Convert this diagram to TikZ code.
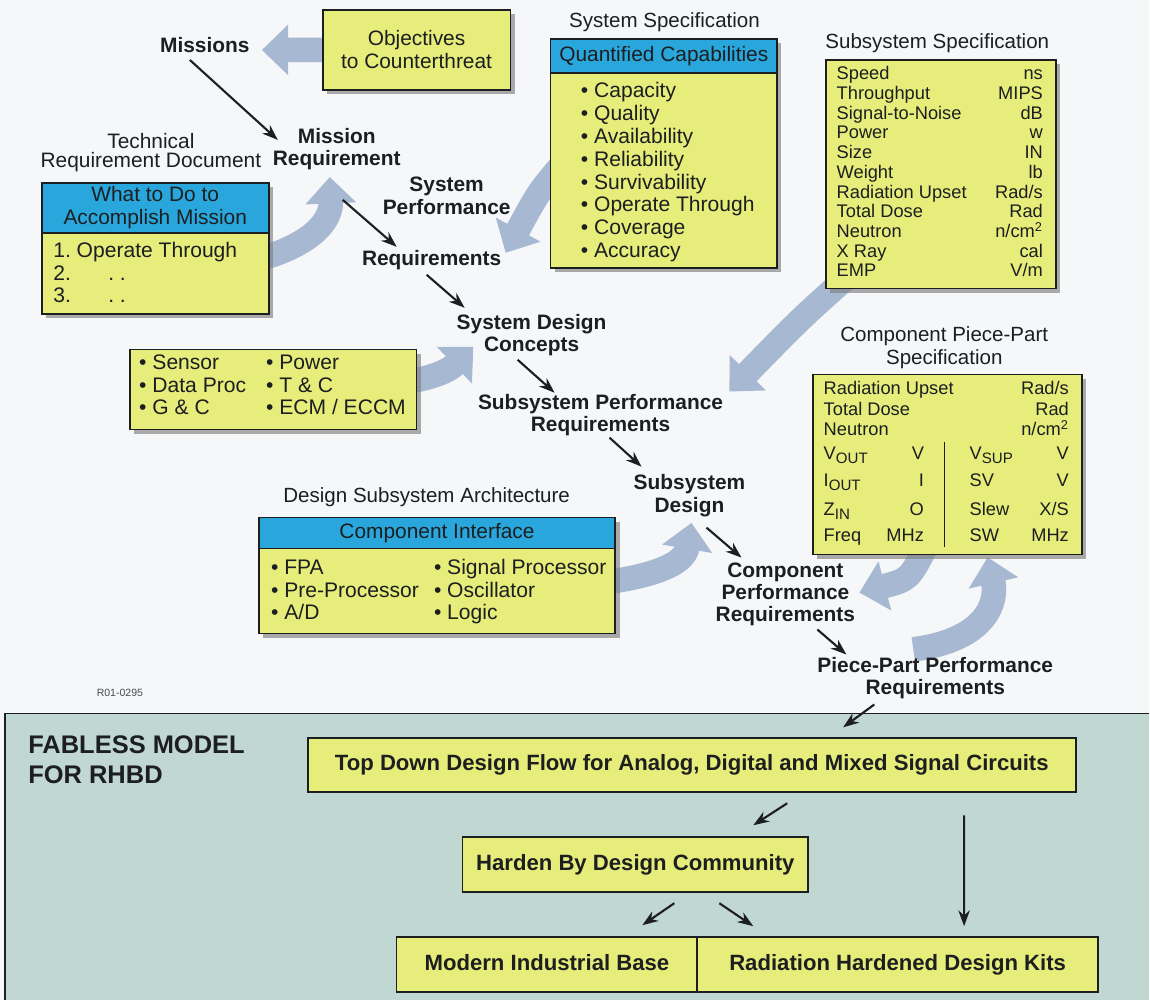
\documentclass[tikz,border=0pt]{standalone}
\usepackage{fontspec}
\setmainfont{Liberation Sans}
\usetikzlibrary{arrows.meta,calc,shadows}
\definecolor{boxyellow}{RGB}{231,237,122}
\definecolor{hdrblue}{RGB}{41,167,221}
\definecolor{fatblue}{RGB}{166,184,210}
\definecolor{panelgreen}{RGB}{193,215,209}
\definecolor{paper}{RGB}{246,247,249}
\definecolor{ink}{RGB}{28,30,32}
\pgfdeclarelayer{back}
\pgfdeclarelayer{fat}
\pgfsetlayers{back,fat,main}
\newcommand{\lowtxt}[1]{\raisebox{-0.45ex}{\fontsize{8.6}{9}\selectfont #1}}
\frenchspacing

\begin{document}
\begin{tikzpicture}[x=0.02cm, y=-0.02cm, >={Stealth[length=9pt,width=6.5pt]},
  lbl/.style={font=\fontsize{11.9}{12.6}\selectfont\bfseries, align=center, inner sep=0pt, text=ink},
  ttl/.style={font=\fontsize{11.7}{12.8}\selectfont, align=center, inner sep=0pt, text=ink},
  listitem/.style={font=\fontsize{12}{13}\selectfont, anchor=base west, inner sep=0pt, text=ink},
  tabrow/.style={font=\fontsize{10.4}{11}\selectfont, inner sep=0pt, text=ink},
  specbox/.style={draw=ink, line width=1pt, fill=boxyellow, inner sep=0pt, anchor=north west,
    drop shadow={shadow xshift=2.4pt, shadow yshift=-2.4pt, fill=black!50, opacity=0.65}},
  hdr/.style={specbox, fill=hdrblue, font=\fontsize{11.9}{13.4}\selectfont, align=center, text=ink},
  flowbox/.style={draw=ink, line width=1pt, fill=boxyellow, inner sep=0pt, anchor=north west,
    text height=9pt, text depth=2.6pt, font=\fontsize{12.6}{14}\selectfont\bfseries, text=ink},
  fatarrow/.style={draw=fatblue, line width=14pt, -{Triangle[length=15pt,width=28pt]}},
  blk/.style={->, draw=ink, line width=1.2pt}]

\begin{pgfonlayer}{back}
  \fill[paper] (0,0) rectangle (1150,1001);
  \fill[panelgreen] (5,714) rectangle (1150,1001);
  \draw[ink, line width=1pt] (5,1001) -- (5,714) -- (1150,714);
\end{pgfonlayer}
\useasboundingbox (0,0) rectangle (1150,1001);

% flow labels
\node[lbl] (missions) at (205,45) {Missions};
\node[lbl] (missreq) at (337,149) {Mission\\Requirement};
\node[lbl] (sysperf) at (447,196) {System\\Performance};
\node[lbl] (sysreq) at (432,260) {Requirements};
\node[lbl] (sdc) at (532,335) {System Design\\Concepts};
\node[lbl] (subperf) at (601,415) {Subsystem Performance\\Requirements};
\node[lbl] (subdes) at (690,496) {Subsystem\\Design};
\node[lbl] (compperf) at (786,595) {Component\\Performance\\Requirements};
\node[lbl] (ppreq) at (936,679) {Piece-Part Performance\\Requirements};

% objectives
\node[specbox, minimum width=3.76cm, minimum height=1.6cm, align=center,
  font=\fontsize{11.9}{13}\selectfont, text=ink] (obj) at (322,9) {Objectives\\to Counterthreat};

% technical requirement document
\node[ttl, font=\fontsize{11.9}{10.6}\selectfont] (trdtitle) at (151,153) {Technical\\Requirement Document};
\node[hdr, minimum width=4.54cm, minimum height=1cm] (trdhead) at (41,182) {What to Do to\\Accomplish Mission};
\node[specbox, minimum width=4.54cm, minimum height=1.62cm] (trdbody) at (41,232) {};
\node[listitem] (trd1) at (53,258) {1. Operate Through};
\node[listitem] (trd2) at (53,281) {2.};
\node[listitem] (trd3) at (53,303) {3.};
\node[listitem] (trd2d) at (108,281) {. .};
\node[listitem] (trd3d) at (108,303) {. .};

% system specification
\node[ttl] (systitle) at (665,22) {System Specification};
\node[hdr, minimum width=4.54cm, minimum height=0.68cm] (syshead) at (550,38) {Quantified Capabilities};
\node[specbox, minimum width=4.54cm, minimum height=3.9cm] (sysbody) at (550,72) {};
\foreach \t [count=\i] in {Capacity, Quality, Availability, Reliability, Survivability, Operate Through, Coverage, Accuracy}
  \node[listitem] (cap\i) at (581,{98+22.8*(\i-1)}) {\textbullet\ \t};

% subsystem specification
\node[ttl] (subtitle) at (938,43) {Subsystem Specification};
\node[specbox, minimum width=4.6cm, minimum height=4.58cm] (subspec) at (826,59) {};
\foreach \nm/\un [count=\i] in {Speed/ns, Throughput/MIPS, Signal-to-Noise/dB, Power/w, Size/IN, Weight/lb,
    Radiation Upset/{Rad/s}, Total Dose/Rad, Neutron/{n/cm\textsuperscript{2}}, X Ray/cal, EMP/{V/m}} {
  \node[tabrow, anchor=base west] (subn\i) at (837,{80+19.7*(\i-1)}) {\nm};
  \node[tabrow, anchor=base east] (subu\i) at (1044,{80+19.7*(\i-1)}) {\un};
}

% system design concepts
\node[specbox, minimum width=5.74cm, minimum height=1.6cm] (sensor) at (129,349) {};
\foreach \a/\b [count=\i] in {Sensor/Power, Data Proc/{T \& C}, {G \& C}/{ECM / ECCM}} {
  \node[listitem] (sena\i) at (139,{370+22.5*(\i-1)}) {\textbullet\ \a};
  \node[listitem] (senb\i) at (266,{370+22.5*(\i-1)}) {\textbullet\ \b};
}

% design subsystem architecture
\node[ttl] (dsatitle) at (427,498) {Design Subsystem Architecture};
\node[hdr, minimum width=7.14cm, minimum height=0.62cm] (dsahead) at (258,517) {Component Interface};
\node[specbox, minimum width=7.14cm, minimum height=1.7cm] (dsabody) at (258,548) {};
\foreach \a/\b [count=\i] in {FPA/Signal Processor, Pre-Processor/Oscillator, {A/D}/Logic} {
  \node[listitem] (dsaa\i) at (271,{575+22.5*(\i-1)}) {\textbullet\ \a};
  \node[listitem] (dsab\i) at (434,{575+22.5*(\i-1)}) {\textbullet\ \b};
}

% component piece-part specification
\node[ttl] (cpptitle) at (945,348) {Component Piece-Part\\Specification};
\node[specbox, minimum width=5.38cm, minimum height=3.6cm] (cpp) at (813,374) {};
\foreach \nm/\un [count=\i] in {Radiation Upset/{Rad/s}, Total Dose/Rad, Neutron/{n/cm\textsuperscript{2}}} {
  \node[tabrow, anchor=base west] (cppn\i) at (824,{395+20.5*(\i-1)}) {\nm};
  \node[tabrow, anchor=base east] (cppu\i) at (1070,{395+20.5*(\i-1)}) {\un};
}
\foreach \y/\nm/\un/\nr/\ur [count=\i] in {460/V\lowtxt{OUT}/V/V\lowtxt{SUP}/V, 487/I\lowtxt{OUT}/I/SV/V,
    516/Z\lowtxt{IN}/O/Slew/{X/S}, 542/Freq/MHz/SW/MHz} {
  \node[tabrow, anchor=base west] (elecn\i) at (824,\y) {\nm};
  \node[tabrow, anchor=base east] (elecu\i) at (925,\y) {\un};
  \node[tabrow, anchor=base west] (elecr\i) at (970,\y) {\nr};
  \node[tabrow, anchor=base east] (elecv\i) at (1070,\y) {\ur};
}
\draw[ink, line width=0.8pt] (945,442) -- (945,547);

\node[font=\fontsize{6}{7}\selectfont, text=ink!80, inner sep=0pt] (code) at (120,693) {R01-0295};

% fabless model
\node[font=\fontsize{14.5}{17}\selectfont\bfseries, align=left, anchor=north west, inner sep=0pt, text=ink]
  (fabless) at (28,736) {FABLESS MODEL\\FOR RHBD};
\node[flowbox, minimum width=15.38cm, minimum height=1.08cm] (topdown) at (307,738)
  {Top Down Design Flow for Analog, Digital and Mixed Signal Circuits};
\node[flowbox, minimum width=6.92cm, minimum height=1.1cm] (harden) at (462,837) {Harden By Design Community};
\node[flowbox, minimum width=6.02cm, minimum height=1.1cm] (modern) at (396,937) {Modern Industrial Base};
\node[flowbox, minimum width=8.02cm, minimum height=1.1cm] (kits) at (697,937) {Radiation Hardened Design Kits};

\begin{pgfonlayer}{fat}
  \draw[fatarrow] (obj.center) -- ($(missions.east)+(12,5)$);
  \draw[fatarrow] (trdbody.center) .. controls (300,268) and (332,225) .. ($(missreq.south)+(-7,7)$);
  \draw[fatarrow] ($(sysbody.west)+(25,-20)$) .. controls (540,190) .. ($(sysreq.east)+(4,-7)$);
  \draw[fatarrow] ($(subspec.south west)+(28,-18)$) .. controls (800,320) .. ($(subperf.north east)+(6,-2)$);
  \draw[fatarrow] (sensor.center) .. controls (430,392) and (452,368) .. ($(sdc.south west)+(17,-9)$);
  \draw[fatarrow] (dsabody.center) .. controls (650,592) and (685,565) .. ($(subdes.south)+(2,6)$);
  \draw[fatarrow] ($(cpp.south)+(-20,-12)$) .. controls (910,580) .. ($(compperf.east)+(4,-2)$);
  \draw[fatarrow] ($(ppreq.north)+(-22,-8)$) .. controls (990,640) and (998,600) .. ($(cpp.south)+(40,2)$);
\end{pgfonlayer}

\draw[blk] ($(missions)+(-15,15)$) -- ($(missreq)+(-59,-9)$);
\draw[blk] ($(missreq)+(6,51)$) -- ($(sysreq)+(-35,-13)$);
\draw[blk] ($(sysreq)+(-5,15)$) -- ($(sdc)+(-67,-27)$);
\draw[blk] ($(sdc)+(-14,25)$) -- ($(subperf)+(-46,-22)$);
\draw[blk] ($(subperf)+(9,23)$) -- ($(subdes)+(-48,-29)$);
\draw[blk] ($(subdes)+(17,32)$) -- ($(compperf)+(-44,-37)$);
\draw[blk] ($(compperf)+(32,35)$) -- ($(ppreq)+(-89,-24)$);
\draw[blk] ($(ppreq)+(-61,26)$) -- ($(topdown)+(151.5,-38)$);
\draw[blk] ($(topdown)+(95.5,38)$) -- ($(harden)+(118,-39.5)$);
\draw[blk] ($(harden)+(39,38.5)$) -- ($(modern)+(95.5,-39.5)$);
\draw[blk] ($(harden)+(84,38.5)$) -- ($(kits)+(-144.5,-38.5)$);
\draw[blk] ($(topdown)+(272.5,50)$) -- ($(kits)+(66.5,-38.5)$);
\end{tikzpicture}
\end{document}
